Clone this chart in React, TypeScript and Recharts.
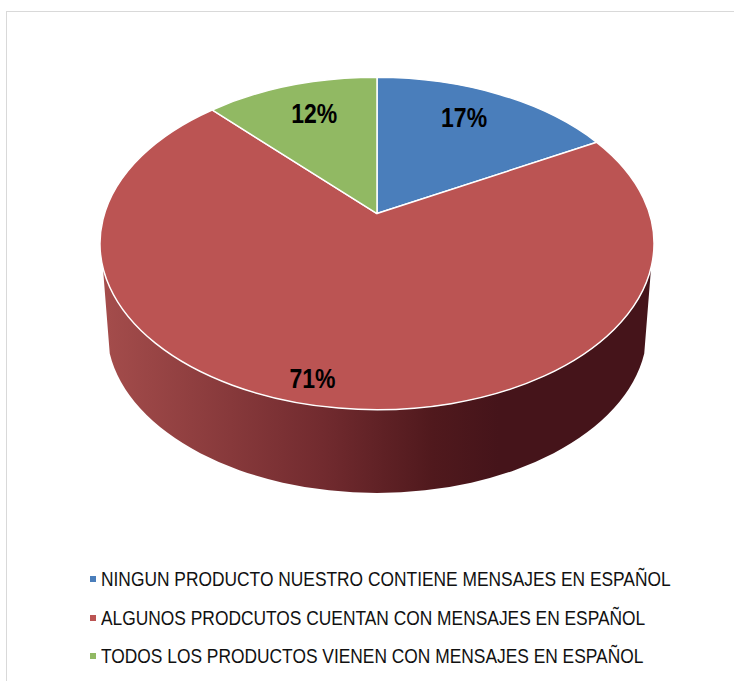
import { Cell, Legend, Pie, PieChart } from "recharts";

const categories = [
  "NINGUN PRODUCTO NUESTRO CONTIENE MENSAJES EN ESPAÑOL",
  "ALGUNOS PRODCUTOS CUENTAN CON MENSAJES EN ESPAÑOL",
  "TODOS LOS PRODUCTOS VIENEN CON MENSAJES EN ESPAÑOL",
];
const shares = [17, 71, 12];
const sliceColors = ["#4a7ebb", "#bb5453", "#91b963"];
// small nudges, the labels are not exactly on the slice's mid ray
const labelNudges = [
  [-9, 0],
  [-23, 10],
  [6, 2],
];

const tableData = categories.map((name, i) => ({ name, value: shares[i] }));

const FONT = '"Liberation Sans", Arial, sans-serif';
const SQUASH = 0.6; // ellipse height / width
const TILT = 0.18; // how far the apex moves up from the ellipse centre, in ry
const DEPTH = 86.5;

// perspective: slice angle (deg from 12 o'clock) to angle on the ellipse
const project = (deg: number) => {
  const half = (deg * Math.PI) / 360;
  const f = Math.sqrt((1 - TILT) / (1 + TILT));
  return (2 * Math.atan2(f * Math.sin(half), Math.cos(half)) * 180) / Math.PI;
};

const rimPoint = (cx: number, cy: number, rx: number, ry: number, deg: number) => {
  const a = (deg * Math.PI) / 180;
  return [cx + rx * Math.sin(a), cy - ry * Math.cos(a)];
};

function Slice(props: any) {
  const { cx, cy, outerRadius, startAngle, endAngle, fill } = props;
  const rx = outerRadius;
  const ry = outerRadius * SQUASH;
  const from = project(90 - startAngle);
  const to = project(90 - endAngle);
  const [x1, y1] = rimPoint(cx, cy, rx, ry, from);
  const [x2, y2] = rimPoint(cx, cy, rx, ry, to);
  const large = to - from > 180 ? 1 : 0;
  const top = `M${cx},${cy - TILT * ry} L${x1},${y1} A${rx},${ry} 0 ${large} 1 ${x2},${y2} Z`;

  // side wall, only where the slice reaches the front of the pie
  const wallFrom = Math.max(from, 98.3);
  const wallTo = Math.min(to, 261.7);
  let wall = null;
  if (wallTo > wallFrom) {
    const rx2 = rx * 0.975;
    const ry2 = ry * 0.98;
    const cy2 = cy + DEPTH;
    const [ax, ay] = rimPoint(cx, cy, rx, ry, wallFrom);
    const [bx, by] = rimPoint(cx, cy2, rx2, ry2, Math.max(wallFrom, 90));
    const [dx, dy] = rimPoint(cx, cy2, rx2, ry2, Math.min(wallTo, 270));
    const [ex, ey] = rimPoint(cx, cy, rx, ry, wallTo);
    wall = (
      <path
        d={`M${ax},${ay} L${bx},${by} A${rx2},${ry2} 0 0 1 ${dx},${dy} L${ex},${ey} A${rx},${ry} 0 0 0 ${ax},${ay} Z`}
        fill="url(#wallShade)"
      />
    );
  }

  return (
    <g>
      {wall}
      <path d={top} fill={fill} stroke="#fff" strokeWidth={1.5} strokeLinejoin="round" />
    </g>
  );
}

function SliceLabel(props: any) {
  const { cx, cy, outerRadius, midAngle, value, index } = props;
  const ry = outerRadius * SQUASH;
  const [rimX, rimY] = rimPoint(cx, cy, outerRadius, ry, project(90 - midAngle));
  const apexY = cy - TILT * ry;
  const x = cx + (rimX - cx) * 0.8 + labelNudges[index][0];
  const y = apexY + (rimY - apexY) * 0.8 + labelNudges[index][1];
  return (
    <text
      x={x}
      y={y}
      textAnchor="middle"
      dominantBaseline="central"
      fontFamily={FONT}
      fontWeight="bold"
      fontSize={28}
      textLength={46}
      lengthAdjust="spacingAndGlyphs"
      fill="#000"
    >
      {`${value}%`}
    </text>
  );
}

function LegendRows() {
  return (
    <div>
      {categories.map((name, i) => (
        <div key={name} style={{ display: "flex", alignItems: "center", height: 38.5 }}>
          <span style={{ flexShrink: 0, width: 6, height: 6, background: sliceColors[i], marginRight: 5 }} />
          <span
            style={{
              flexShrink: 0,
              fontFamily: FONT,
              fontSize: 21,
              color: "#111",
              whiteSpace: "nowrap",
              transform: "scaleX(0.827)",
              transformOrigin: "left center",
            }}
          >
            {name}
          </span>
        </div>
      ))}
    </div>
  );
}

export default function App() {
  return (
    <div style={{ position: "absolute", left: 0, top: 0, width: 734, height: 681, background: "#fff", overflow: "hidden" }}>
      <div
        style={{
          position: "absolute",
          left: 6,
          top: 11,
          right: -4,
          bottom: -4,
          borderLeft: "1.5px solid #d9d9d9",
          borderTop: "1.5px solid #d9d9d9",
        }}
      />
      <PieChart width={734} height={681} margin={{ top: 0, right: 0, bottom: 0, left: 0 }} style={{ position: "absolute", left: 0, top: 0 }}>
        <defs>
          <linearGradient id="wallShade" gradientUnits="userSpaceOnUse" x1={100} y1={0} x2={654} y2={0}>
            <stop offset="0" stopColor="#a54d4c" />
            <stop offset="0.4" stopColor="#722b2f" />
            <stop offset="0.6" stopColor="#50191d" />
            <stop offset="0.72" stopColor="#45141a" />
            <stop offset="1" stopColor="#45141a" />
          </linearGradient>
        </defs>
        <Pie
          data={tableData}
          dataKey="value"
          nameKey="name"
          cx={377}
          cy={243.5}
          outerRadius={277}
          startAngle={90}
          endAngle={-270}
          shape={Slice}
          label={SliceLabel}
          labelLine={false}
          isAnimationActive={false}
        >
          {categories.map((name, i) => (
            <Cell key={name} fill={sliceColors[i]} />
          ))}
        </Pie>
        <Legend
          content={LegendRows}
          layout="vertical"
          wrapperStyle={{ left: 90, top: 560, width: 620, bottom: "auto" }}
        />
      </PieChart>
    </div>
  );
}
